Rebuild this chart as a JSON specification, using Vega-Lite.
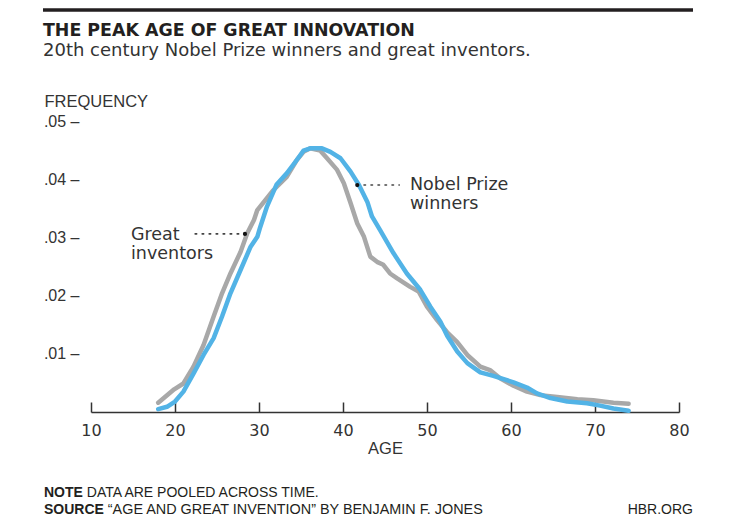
{
  "$schema": "https://vega.github.io/schema/vega-lite/v6.json",
  "width": 588,
  "height": 291,
  "autosize": {"type": "none"},
  "padding": {"left": 91, "top": 121, "right": 57, "bottom": 116},
  "background": "white",
  "config": {"view": {"stroke": null}, "font": "Liberation Sans"},
  "datasets": {
    "one": [{}],
    "curves": [
      {"series": "Great inventors", "age": 18.0, "freq": 0.0016},
      {"series": "Great inventors", "age": 19.9, "freq": 0.0039},
      {"series": "Great inventors", "age": 21.0, "freq": 0.0049},
      {"series": "Great inventors", "age": 22.2, "freq": 0.0078},
      {"series": "Great inventors", "age": 23.4, "freq": 0.0115},
      {"series": "Great inventors", "age": 24.6, "freq": 0.0164},
      {"series": "Great inventors", "age": 25.6, "freq": 0.0204},
      {"series": "Great inventors", "age": 26.6, "freq": 0.0238},
      {"series": "Great inventors", "age": 27.8, "freq": 0.0275},
      {"series": "Great inventors", "age": 28.6, "freq": 0.0307},
      {"series": "Great inventors", "age": 29.4, "freq": 0.0330},
      {"series": "Great inventors", "age": 29.8, "freq": 0.0347},
      {"series": "Great inventors", "age": 31.7, "freq": 0.0381},
      {"series": "Great inventors", "age": 33.3, "freq": 0.0404},
      {"series": "Great inventors", "age": 34.5, "freq": 0.0433},
      {"series": "Great inventors", "age": 35.3, "freq": 0.0447},
      {"series": "Great inventors", "age": 36.1, "freq": 0.0453},
      {"series": "Great inventors", "age": 37.3, "freq": 0.0449},
      {"series": "Great inventors", "age": 38.1, "freq": 0.0436},
      {"series": "Great inventors", "age": 39.3, "freq": 0.0416},
      {"series": "Great inventors", "age": 40.1, "freq": 0.0393},
      {"series": "Great inventors", "age": 40.9, "freq": 0.0359},
      {"series": "Great inventors", "age": 41.7, "freq": 0.0324},
      {"series": "Great inventors", "age": 42.5, "freq": 0.0301},
      {"series": "Great inventors", "age": 43.25, "freq": 0.0267},
      {"series": "Great inventors", "age": 44.05, "freq": 0.0258},
      {"series": "Great inventors", "age": 44.8, "freq": 0.0253},
      {"series": "Great inventors", "age": 45.6, "freq": 0.0238},
      {"series": "Great inventors", "age": 46.4, "freq": 0.0230},
      {"series": "Great inventors", "age": 48.0, "freq": 0.0215},
      {"series": "Great inventors", "age": 49.0, "freq": 0.0207},
      {"series": "Great inventors", "age": 50.0, "freq": 0.0181},
      {"series": "Great inventors", "age": 51.2, "freq": 0.0158},
      {"series": "Great inventors", "age": 52.4, "freq": 0.0137},
      {"series": "Great inventors", "age": 53.6, "freq": 0.0120},
      {"series": "Great inventors", "age": 54.8, "freq": 0.0098},
      {"series": "Great inventors", "age": 56.35, "freq": 0.0078},
      {"series": "Great inventors", "age": 57.5, "freq": 0.0072},
      {"series": "Great inventors", "age": 58.7, "freq": 0.0058},
      {"series": "Great inventors", "age": 60.3, "freq": 0.0045},
      {"series": "Great inventors", "age": 61.9, "freq": 0.0035},
      {"series": "Great inventors", "age": 63.5, "freq": 0.0029},
      {"series": "Great inventors", "age": 65.5, "freq": 0.0026},
      {"series": "Great inventors", "age": 67.9, "freq": 0.0022},
      {"series": "Great inventors", "age": 69.8, "freq": 0.0020},
      {"series": "Great inventors", "age": 72.2, "freq": 0.0016},
      {"series": "Great inventors", "age": 74.0, "freq": 0.0014},
      {"series": "Nobel Prize winners", "age": 18.0, "freq": 0.0005},
      {"series": "Nobel Prize winners", "age": 19.05, "freq": 0.0009},
      {"series": "Nobel Prize winners", "age": 20.0, "freq": 0.0018},
      {"series": "Nobel Prize winners", "age": 21.0, "freq": 0.0035},
      {"series": "Nobel Prize winners", "age": 22.2, "freq": 0.0066},
      {"series": "Nobel Prize winners", "age": 23.4, "freq": 0.0098},
      {"series": "Nobel Prize winners", "age": 24.6, "freq": 0.0127},
      {"series": "Nobel Prize winners", "age": 25.6, "freq": 0.0164},
      {"series": "Nobel Prize winners", "age": 26.6, "freq": 0.0204},
      {"series": "Nobel Prize winners", "age": 27.8, "freq": 0.0244},
      {"series": "Nobel Prize winners", "age": 29.0, "freq": 0.0284},
      {"series": "Nobel Prize winners", "age": 29.8, "freq": 0.0301},
      {"series": "Nobel Prize winners", "age": 30.15, "freq": 0.0318},
      {"series": "Nobel Prize winners", "age": 30.95, "freq": 0.0353},
      {"series": "Nobel Prize winners", "age": 32.1, "freq": 0.0391},
      {"series": "Nobel Prize winners", "age": 33.3, "freq": 0.0410},
      {"series": "Nobel Prize winners", "age": 34.5, "freq": 0.0433},
      {"series": "Nobel Prize winners", "age": 35.3, "freq": 0.0449},
      {"series": "Nobel Prize winners", "age": 36.1, "freq": 0.0453},
      {"series": "Nobel Prize winners", "age": 37.5, "freq": 0.0453},
      {"series": "Nobel Prize winners", "age": 38.5, "freq": 0.0447},
      {"series": "Nobel Prize winners", "age": 39.7, "freq": 0.0436},
      {"series": "Nobel Prize winners", "age": 40.9, "freq": 0.0413},
      {"series": "Nobel Prize winners", "age": 41.9, "freq": 0.0390},
      {"series": "Nobel Prize winners", "age": 42.9, "freq": 0.0361},
      {"series": "Nobel Prize winners", "age": 43.45, "freq": 0.0336},
      {"series": "Nobel Prize winners", "age": 44.4, "freq": 0.0313},
      {"series": "Nobel Prize winners", "age": 46.0, "freq": 0.0273},
      {"series": "Nobel Prize winners", "age": 47.6, "freq": 0.0238},
      {"series": "Nobel Prize winners", "age": 49.2, "freq": 0.0210},
      {"series": "Nobel Prize winners", "age": 50.4, "freq": 0.0181},
      {"series": "Nobel Prize winners", "age": 51.6, "freq": 0.0155},
      {"series": "Nobel Prize winners", "age": 52.4, "freq": 0.0131},
      {"series": "Nobel Prize winners", "age": 53.6, "freq": 0.0104},
      {"series": "Nobel Prize winners", "age": 54.8, "freq": 0.0084},
      {"series": "Nobel Prize winners", "age": 56.35, "freq": 0.0068},
      {"series": "Nobel Prize winners", "age": 57.9, "freq": 0.0062},
      {"series": "Nobel Prize winners", "age": 60.3, "freq": 0.0051},
      {"series": "Nobel Prize winners", "age": 61.9, "freq": 0.0042},
      {"series": "Nobel Prize winners", "age": 63.1, "freq": 0.0032},
      {"series": "Nobel Prize winners", "age": 64.7, "freq": 0.0024},
      {"series": "Nobel Prize winners", "age": 66.7, "freq": 0.0018},
      {"series": "Nobel Prize winners", "age": 69.05, "freq": 0.0015},
      {"series": "Nobel Prize winners", "age": 70.6, "freq": 0.0011},
      {"series": "Nobel Prize winners", "age": 72.2, "freq": 0.0006},
      {"series": "Nobel Prize winners", "age": 74.0, "freq": 0.0002}
    ]
  },
  "layer": [
    {
      "data": {"name": "curves"},
      "mark": {"type": "line", "strokeWidth": 4.5, "strokeCap": "round", "strokeJoin": "round"},
      "encoding": {
        "x": {
          "field": "age", "type": "quantitative",
          "scale": {"domain": [10, 80], "nice": false, "zero": false},
          "axis": {
            "values": [10, 20, 30, 40, 50, 60, 70, 80],
            "title": "AGE", "grid": false,
            "domainColor": "#333", "domainWidth": 1.5,
            "tickColor": "#333", "tickWidth": 1.5, "tickSize": -10,
            "labelPadding": 20, "labelFont": "DejaVu Sans", "labelFontSize": 16, "labelColor": "#333",
            "labelFlush": false,
            "titleFont": "Liberation Sans", "titleFontSize": 16.5, "titleFontWeight": "normal", "titleColor": "#333",
            "titlePadding": 2
          }
        },
        "y": {
          "field": "freq", "type": "quantitative",
          "scale": {"domain": [0, 0.05], "nice": false, "zero": true},
          "axis": {
            "values": [0.01, 0.02, 0.03, 0.04, 0.05],
            "labelExpr": "replace(format(datum.value, '.2f'), '0.', '.') + ' –'",
            "domain": false, "ticks": false, "grid": false,
            "labelPadding": 12, "labelFont": "Liberation Sans", "labelFontSize": 16, "labelColor": "#333",
            "title": "FREQUENCY", "titleAngle": 0, "titleAlign": "left", "titleBaseline": "alphabetic",
            "titleX": -47, "titleY": -15, "titleFont": "Liberation Sans", "titleFontSize": 16.5,
            "titleFontWeight": "normal", "titleColor": "#333"
          }
        },
        "color": {
          "field": "series", "type": "nominal",
          "scale": {"domain": ["Great inventors", "Nobel Prize winners"], "range": ["#a8a8a8", "#52b3e6"]},
          "legend": null
        }
      }
    },
    {
      "data": {"name": "one"},
      "mark": {"type": "rule", "strokeDash": [1.5, 5.5], "strokeWidth": 1.6, "color": "#444", "strokeCap": "round"},
      "encoding": {"x": {"datum": 22.4, "type": "quantitative"}, "x2": {"datum": 27.8}, "y": {"datum": 0.0306, "type": "quantitative"}}
    },
    {
      "data": {"name": "one"},
      "mark": {"type": "rule", "strokeDash": [1.5, 5.5], "strokeWidth": 1.6, "color": "#444", "strokeCap": "round"},
      "encoding": {"x": {"datum": 42.5, "type": "quantitative"}, "x2": {"datum": 46.7}, "y": {"datum": 0.0390, "type": "quantitative"}}
    },
    {
      "data": {"name": "one"},
      "mark": {"type": "point", "filled": true, "size": 18, "color": "#111", "opacity": 1},
      "encoding": {"x": {"datum": 28.33, "type": "quantitative"}, "y": {"datum": 0.0306, "type": "quantitative"}}
    },
    {
      "data": {"name": "one"},
      "mark": {"type": "point", "filled": true, "size": 18, "color": "#111", "opacity": 1},
      "encoding": {"x": {"datum": 41.7, "type": "quantitative"}, "y": {"datum": 0.0390, "type": "quantitative"}}
    },
    {
      "data": {"name": "one"},
      "mark": {"type": "text", "align": "left", "baseline": "alphabetic", "font": "DejaVu Sans", "fontSize": 17.5, "color": "#333", "lineBreak": "\n", "lineHeight": 19},
      "encoding": {"x": {"datum": 14.76, "type": "quantitative"}, "y": {"datum": 0.02955, "type": "quantitative"}, "text": {"value": "Great\ninventors"}}
    },
    {
      "data": {"name": "one"},
      "mark": {"type": "text", "align": "left", "baseline": "alphabetic", "font": "DejaVu Sans", "fontSize": 17.5, "color": "#333", "lineBreak": "\n", "lineHeight": 19},
      "encoding": {"x": {"datum": 47.98, "type": "quantitative"}, "y": {"datum": 0.03806, "type": "quantitative"}, "text": {"value": "Nobel Prize\nwinners"}}
    },
    {
      "data": {"name": "one"},
      "mark": {"type": "rule", "strokeWidth": 3.5, "color": "#231f20"},
      "encoding": {"x": {"datum": 4.286, "type": "quantitative"}, "x2": {"datum": 81.667}, "y": {"datum": 0.069072, "type": "quantitative"}}
    },
    {
      "data": {"name": "one"},
      "mark": {"type": "text", "align": "left", "baseline": "alphabetic", "font": "DejaVu Sans", "fontSize": 17.4, "fontWeight": "bold", "color": "#231f20"},
      "encoding": {"x": {"datum": 4.286, "type": "quantitative"}, "y": {"datum": 0.064690, "type": "quantitative"}, "text": {"value": "THE PEAK AGE OF GREAT INNOVATION"}}
    },
    {
      "data": {"name": "one"},
      "mark": {"type": "text", "align": "left", "baseline": "alphabetic", "font": "DejaVu Sans", "fontSize": 18, "color": "#333"},
      "encoding": {"x": {"datum": 4.286, "type": "quantitative"}, "y": {"datum": 0.061117, "type": "quantitative"}, "text": {"value": "20th century Nobel Prize winners and great inventors."}}
    },
    {
      "data": {"name": "one"},
      "mark": {"type": "text", "align": "left", "baseline": "alphabetic", "font": "Liberation Sans", "fontSize": 14, "fontWeight": "bold", "color": "#231f20"},
      "encoding": {"x": {"datum": 4.405, "type": "quantitative"}, "y": {"datum": -0.014605, "type": "quantitative"}, "text": {"value": "NOTE"}}
    },
    {
      "data": {"name": "one"},
      "mark": {"type": "text", "align": "left", "baseline": "alphabetic", "font": "Liberation Sans", "fontSize": 14, "color": "#231f20"},
      "encoding": {"x": {"datum": 9.5, "type": "quantitative"}, "y": {"datum": -0.014605, "type": "quantitative"}, "text": {"value": "DATA ARE POOLED ACROSS TIME."}}
    },
    {
      "data": {"name": "one"},
      "mark": {"type": "text", "align": "left", "baseline": "alphabetic", "font": "Liberation Sans", "fontSize": 14, "fontWeight": "bold", "color": "#231f20"},
      "encoding": {"x": {"datum": 4.405, "type": "quantitative"}, "y": {"datum": -0.017440, "type": "quantitative"}, "text": {"value": "SOURCE"}}
    },
    {
      "data": {"name": "one"},
      "mark": {"type": "text", "align": "left", "baseline": "alphabetic", "font": "Liberation Sans", "fontSize": 14.4, "color": "#231f20"},
      "encoding": {"x": {"datum": 12.0, "type": "quantitative"}, "y": {"datum": -0.017440, "type": "quantitative"}, "text": {"value": "“AGE AND GREAT INVENTION” BY BENJAMIN F. JONES"}}
    },
    {
      "data": {"name": "one"},
      "mark": {"type": "text", "align": "right", "baseline": "alphabetic", "font": "Liberation Sans", "fontSize": 14, "color": "#231f20"},
      "encoding": {"x": {"datum": 81.667, "type": "quantitative"}, "y": {"datum": -0.017440, "type": "quantitative"}, "text": {"value": "HBR.ORG"}}
    }
  ]
}
